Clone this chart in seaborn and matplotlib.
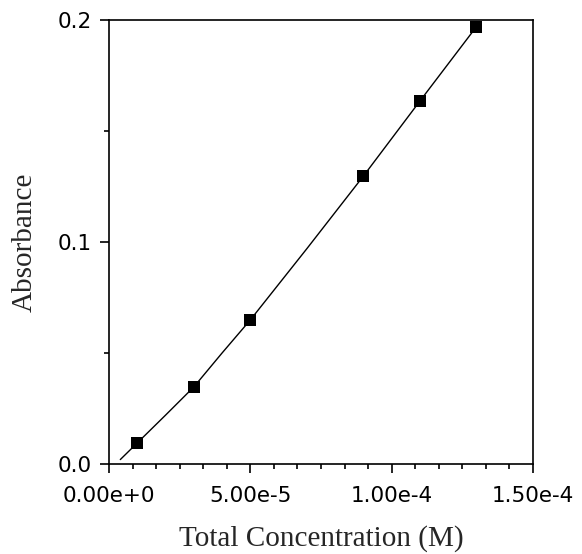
import matplotlib
matplotlib.use("Agg")
import matplotlib.pyplot as plt
import seaborn as sns
import pandas as pd
from matplotlib.ticker import MultipleLocator, FixedLocator

# measured points
conc = [1.0e-5, 3.0e-5, 5.0e-5, 9.0e-5, 1.1e-4, 1.3e-4]
absorb = [0.0095, 0.0347, 0.0649, 0.1297, 0.1635, 0.1970]

# fitted curve
fit_conc = [4.0e-6, 1.0e-5, 2.0e-5, 3.0e-5, 4.0e-5, 5.0e-5, 7.0e-5, 9.0e-5, 1.1e-4, 1.3e-4, 1.31e-4]
fit_abs = [0.002, 0.0095, 0.022, 0.0347, 0.050, 0.0649, 0.097, 0.1297, 0.1635, 0.1970, 0.1990]

x_ticks = [0.0, 5.0e-5, 1.0e-4, 1.5e-4]
x_tick_labels = ["0.00e+0", "5.00e-5", "1.00e-4", "1.50e-4"]
y_ticks = [0.0, 0.1, 0.2]
y_tick_labels = ["0.0", "0.1", "0.2"]

sns.set_style("ticks")
plt.rcParams['font.family'] = ['DejaVu Sans']

pts = pd.DataFrame({"conc": conc, "abs": absorb})
fit = pd.DataFrame({"conc": fit_conc, "abs": fit_abs})

fig = plt.figure(figsize=(5.82, 5.54), dpi=100)
ax = fig.add_axes([109/582, 1-464/554, (533-109)/582, (464-20)/554])

sns.lineplot(data=fit, x="conc", y="abs", ax=ax, color="black", linewidth=1.0, sort=False)
sns.scatterplot(data=pts, x="conc", y="abs", ax=ax, color="black", marker="s", s=85,
                edgecolor="black", linewidth=0, zorder=3)

ax.set_xlim(0, 1.5e-4)
ax.set_ylim(0, 0.2)
ax.xaxis.set_major_locator(FixedLocator(x_ticks))
ax.set_xticklabels(x_tick_labels)
ax.xaxis.set_minor_locator(MultipleLocator(5e-5/6))
ax.yaxis.set_major_locator(FixedLocator(y_ticks))
ax.set_yticklabels(y_tick_labels)
ax.yaxis.set_minor_locator(MultipleLocator(0.05))

ax.tick_params(axis="both", which="major", direction="out", length=6.5, width=1.2,
               labelsize=15.5, color="black", labelcolor="black", pad=6)
ax.tick_params(axis="x", which="major", pad=9)
ax.tick_params(axis="both", which="minor", direction="out", length=3.5, width=1.2, color="black")

for s in ax.spines.values():
    s.set_visible(True)
    s.set_color("black")
    s.set_linewidth(1.2)

ax.set_xlabel("Total Concentration (M)", family="Liberation Serif", fontsize=21, labelpad=14)
ax.set_ylabel("Absorbance", family="Liberation Serif", fontsize=21, labelpad=14)

fig.savefig("out.png", dpi=100)
